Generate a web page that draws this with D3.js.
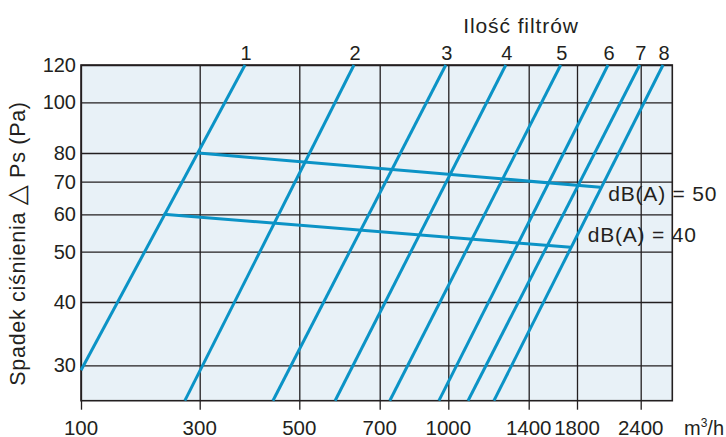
<!DOCTYPE html>
<html>
<head>
<meta charset="utf-8">
<script src="https://cdn.jsdelivr.net/npm/d3@7"></script>
<style>
  html, body { margin: 0; padding: 0; background: #ffffff; }
  svg { display: block; }
  text { font-family: "Liberation Sans", Arial, Helvetica, sans-serif; fill: #231f20; }
</style>
</head>
<body>
<svg id="chart" width="726" height="437"></svg>
<script>
// ---------------- data ----------------
const xTicks = [100, 300, 500, 700, 1000, 1400, 1800, 2400];   // m3/h
const yTicks = [30, 40, 50, 60, 70, 80, 100, 120];              // Pa
const xDomainMax = 2700;
const yDomainMin = 25;

const filterCounts = ["1", "2", "3", "4", "5", "6", "7", "8"];
// each filter line: [flow, pressure] at its lower end and its upper end
const filterLow  = [[100, 29.3], [275, 25], [447, 25], [589, 25], [744, 25], [959, 25], [1098, 25], [1227, 25]];
const filterHigh = [[391, 120], [636, 120], [989, 120], [1286, 120], [1665, 120], [2092, 120], [2391, 120], [2612, 120]];

const noiseLabels = ["dB(A) = 50", "dB(A) = 40"];
const noiseStart = [[298, 80], [239, 60]];
const noiseEnd   = [[2019, 68.3], [1748, 51.2]];

// ---------------- layout ----------------
const L = 81, R = 672.3, T = 65, B = 400.7;
const xRange = [81, 199.7, 299.3, 379.7, 448.3, 528.7, 577, 640.7, 672.3];
const yRange = [400.7, 365.3, 302, 251.7, 214.3, 181.7, 153, 102.3, 65];
const noiseLabelOffset = [[8, 14], [17, -5.5]];

const x = d3.scaleLinear().domain([...xTicks, xDomainMax]).range(xRange);
const y = d3.scaleLinear().domain([yDomainMin, ...yTicks]).range(yRange);

const svg = d3.select("#chart");
const ink = "#231f20";
const blue = "#0b93c6";

svg.append("rect").attr("x", L).attr("y", T).attr("width", R - L).attr("height", B - T)
   .attr("fill", "#e8f1f7");

// grid
const xAxis = d3.axisBottom(x).tickValues(xTicks).tickSize(-(B - T)).tickFormat("").tickSizeOuter(0);
const gx = svg.append("g").attr("transform", `translate(0,${B})`).call(xAxis);
gx.select(".domain").remove();
gx.selectAll(".tick line").attr("stroke", ink).attr("stroke-width", 1.3);

const yAxis = d3.axisLeft(y).tickValues(yTicks).tickSize(-(R - L)).tickFormat("").tickSizeOuter(0);
const gy = svg.append("g").attr("transform", `translate(${L},0)`).call(yAxis);
gy.select(".domain").remove();
gy.selectAll(".tick line").attr("stroke", ink).attr("stroke-width", 1.3);

// tick marks below the x axis
const xTickMarks = d3.axisBottom(x).tickValues(xTicks).tickSize(9).tickFormat("").tickSizeOuter(0);
const gxm = svg.append("g").attr("transform", `translate(0,${B})`).call(xTickMarks);
gxm.select(".domain").remove();
gxm.selectAll(".tick line").attr("stroke", ink).attr("stroke-width", 1.3);

// frame
svg.append("rect").attr("x", L).attr("y", T).attr("width", R - L).attr("height", B - T)
   .attr("fill", "none").attr("stroke", ink).attr("stroke-width", 1.6);

// tick labels
svg.append("g").selectAll("text").data(xTicks).join("text")
   .attr("x", d => x(d)).attr("y", 434.5).attr("text-anchor", "middle")
   .style("font-size", "20.5px").text(d => d);
svg.append("g").selectAll("text").data(yTicks).join("text")
   .attr("x", 76).attr("y", d => y(d) + 7).attr("text-anchor", "end")
   .style("font-size", "20px").text(d => d);

// filter lines
const line = d3.line().x(d => x(d[0])).y(d => y(d[1]));
svg.append("g").selectAll("path").data(filterCounts).join("path")
   .attr("d", (d, i) => line([filterLow[i], filterHigh[i]]))
   .attr("fill", "none").attr("stroke", blue).attr("stroke-width", 3).attr("stroke-linecap", "butt");

// noise lines
svg.append("g").selectAll("path").data(noiseLabels).join("path")
   .attr("d", (d, i) => line([noiseStart[i], noiseEnd[i]]))
   .attr("fill", "none").attr("stroke", blue).attr("stroke-width", 3);

svg.append("g").selectAll("text").data(noiseLabels).join("text")
   .attr("x", (d, i) => x(noiseEnd[i][0]) + noiseLabelOffset[i][0])
   .attr("y", (d, i) => y(noiseEnd[i][1]) + noiseLabelOffset[i][1])
   .style("font-size", "21px").style("letter-spacing", "0.8px").text(d => d);

// filter count labels
svg.append("g").selectAll("text").data(filterCounts).join("text")
   .attr("x", (d, i) => x(filterHigh[i][0]) + 1).attr("y", 60).attr("text-anchor", "middle")
   .style("font-size", "20px").text(d => d);

// titles
svg.append("text").attr("x", 521).attr("y", 33).attr("text-anchor", "middle")
   .style("font-size", "21px").style("letter-spacing", "0.9px").text("Ilość filtrów");

const yt = svg.append("text").attr("transform", "translate(25,243.5) rotate(-90)").attr("text-anchor", "middle")
   .style("font-size", "21.5px").style("letter-spacing", "0.7px");
yt.append("tspan").text("Spadek ciśnienia ");
yt.append("tspan").style("font-size", "26px").style("font-family", "DejaVu Sans").text("△");
yt.append("tspan").text(" Ps (Pa)");

const unit = svg.append("text").attr("x", 684).attr("y", 434.5).style("font-size", "20px");
unit.append("tspan").text("m");
unit.append("tspan").attr("dy", -8).style("font-size", "12px").text("3");
unit.append("tspan").attr("dy", 8).text("/h");
</script>
</body>
</html>
